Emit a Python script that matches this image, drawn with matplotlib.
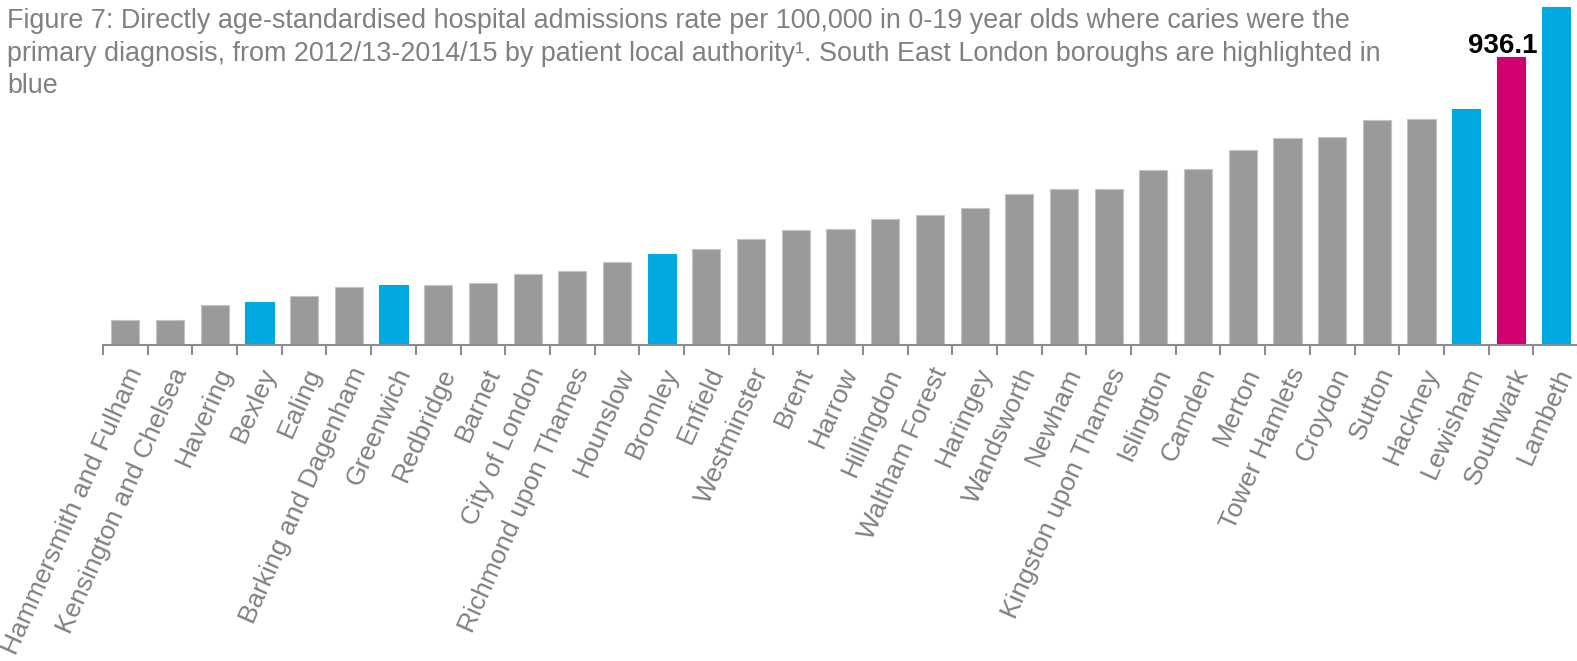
import matplotlib
matplotlib.use("Agg")
import matplotlib.pyplot as plt
import numpy as np

# Data (rate per 100,000, 0-19 year olds)
boroughs = [
    "Hammersmith and Fulham", "Kensington and Chelsea", "Havering", "Bexley",
    "Ealing", "Barking and Dagenham", "Greenwich", "Redbridge", "Barnet",
    "City of London", "Richmond upon Thames", "Hounslow", "Bromley", "Enfield",
    "Westminster", "Brent", "Harrow", "Hillingdon", "Waltham Forest",
    "Haringey", "Wandsworth", "Newham", "Kingston upon Thames", "Islington",
    "Camden", "Merton", "Tower Hamlets", "Croydon", "Sutton", "Hackney",
    "Lewisham", "Southwark", "Lambeth",
]
rates = [
    79, 80, 128, 139, 159, 187, 195, 194, 201, 229, 239, 268, 295, 312,
    343, 374, 377, 409, 422, 446, 490, 506, 508, 568, 571, 634, 673, 676,
    732, 734, 767, 936.1, 1099,
]
south_east_london = ["Bexley", "Greenwich", "Bromley", "Lewisham", "Lambeth"]
featured = "Southwark"

GREY = "#9a9a9a"
BLUE = "#00a9e0"
MAGENTA = "#d0006f"
TEXT_GREY = "#808080"

plt.rcParams["font.family"] = ["Liberation Sans", "DejaVu Sans"]

colors = []
for name in boroughs:
    if name == featured:
        colors.append(MAGENTA)
    elif name in south_east_london:
        colors.append(BLUE)
    else:
        colors.append(GREY)
edges = ["#c4c4c4" if c == GREY else c for c in colors]

fig = plt.figure(figsize=(15.77, 6.61), dpi=100)
ax = fig.add_axes([103 / 1577, 1 - 344.5 / 661, 1475 / 1577, 344.5 / 661])

x = np.arange(len(boroughs))
ax.bar(x, rates, width=0.63, color=colors, edgecolor=edges, linewidth=0.8, zorder=2)

ax.set_xlim(-0.5, len(boroughs) - 0.5)
ax.set_ylim(0, 1123)

# value label on the featured borough
i = boroughs.index(featured)
ax.annotate(f"{rates[i]:.1f}", (x[i], rates[i]), xytext=(-6, -1),
            textcoords="offset points", ha="center", va="bottom",
            fontsize=20, fontweight="bold", color="black")

for side in ("top", "right", "left"):
    ax.spines[side].set_visible(False)
ax.spines["bottom"].set_color("#8c8c8c")
ax.spines["bottom"].set_linewidth(1.5)
ax.set_yticks([])

# category labels at bar centres, tick marks between categories (Excel style)
ax.set_xticks(x)
ax.set_xticklabels(boroughs, rotation=66, ha="right", rotation_mode="anchor",
                   fontsize=19, color=TEXT_GREY)
ax.tick_params(axis="x", which="major", length=0, pad=14)
ax.set_xticks(np.arange(-0.5, len(boroughs)), minor=True)
ax.tick_params(axis="x", which="minor", length=7, width=1.5, color="#8c8c8c",
               direction="out")

title = ("Figure 7: Directly age-standardised hospital admissions rate per 100,000 "
         "in 0-19 year olds where caries were the\n"
         "primary diagnosis, from 2012/13-2014/15 by patient local authority\u00b9. "
         "South East London boroughs are highlighted in\n"
         "blue")
fig.text(7 / 1577, 1 - 8 / 661, title, ha="left", va="top", fontsize=19.4,
         color=TEXT_GREY, linespacing=1.33)

fig.savefig("out.png", dpi=100)
